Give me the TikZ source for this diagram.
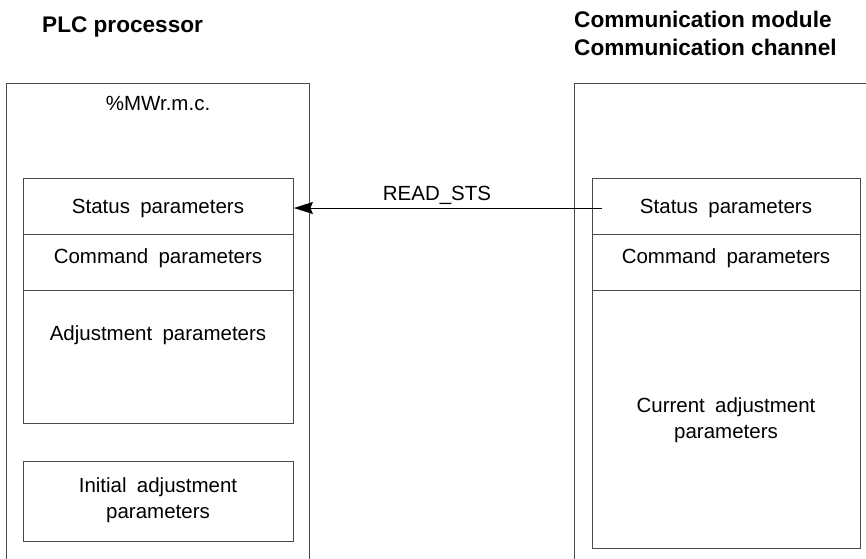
\documentclass[tikz,border=0pt]{standalone}
\usepackage{fontspec}
\setmainfont{Liberation Sans}
\newfontfamily\lblfont{Liberation Sans}[WordSpace=1.8]
\usetikzlibrary{arrows.meta}
\definecolor{linec}{HTML}{4A4A4A}
\begin{document}
\begin{tikzpicture}[x=1pt,y=-1pt,
  frame/.style={draw=linec,line width=0.9pt},
  cell/.style={draw=linec,line width=0.9pt,rectangle,inner sep=0pt,anchor=north west},
  lbl/.style={font=\lblfont\fontsize{20.5}{24}\selectfont,inner sep=0pt,anchor=base},
  ttl/.style={font=\bfseries\fontsize{22.6}{26}\selectfont,inner sep=0pt,anchor=base west},
  arr/.style={draw=black,line width=0.8pt,-{Stealth[length=19pt,width=12pt,inset=2.5pt]}}]
\useasboundingbox (0,0) rectangle (866,558);
\clip (0,0) rectangle (866,558);
% titles
\node[ttl] (t1) at (42,32) {PLC processor};
\node[ttl] (t2) at (574,27) {Communication module};
\node[ttl] (t3) at (574,55) {Communication channel};
% outer frames
\draw[frame] (6,600) |- (309,83) -- (309,600);
\draw[frame] (574,600) |- (900,83);
\node[lbl] (mw) at (158,110) {\%MWr.m.c.};
% left cells
\node[cell,minimum width=270pt,minimum height=56pt] (ls) at (23,178) {};
\node[cell,minimum width=270pt,minimum height=56pt] (lc) at (23,234) {};
\node[cell,minimum width=270pt,minimum height=133pt] (la) at (23,290) {};
\node[cell,minimum width=270pt,minimum height=80pt] (li) at (23,461) {};
\node[lbl] (tls) at (158,213) {Status parameters};
\node[lbl] (tlc) at (158,263) {Command parameters};
\node[lbl] (tla) at (158,340) {Adjustment parameters};
\node[lbl] (tli1) at (158,492) {Initial adjustment};
\node[lbl] (tli2) at (158,518) {parameters};
% right cells
\node[cell,minimum width=268pt,minimum height=56pt] (rs) at (592,178) {};
\node[cell,minimum width=268pt,minimum height=56pt] (rc) at (592,234) {};
\node[cell,minimum width=268pt,minimum height=258pt] (ra) at (592,290) {};
\node[lbl] (trs) at (726,213) {Status parameters};
\node[lbl] (trc) at (726,263) {Command parameters};
\node[lbl] (tra1) at (726,412) {Current adjustment};
\node[lbl] (tra2) at (726,438) {parameters};
% arrow
\coordinate (as) at (602,208);
\draw[arr] (as) -- (ls.east |- as);
\node[lbl] (rd) at (437,200) {READ\_STS};
\end{tikzpicture}
\end{document}
